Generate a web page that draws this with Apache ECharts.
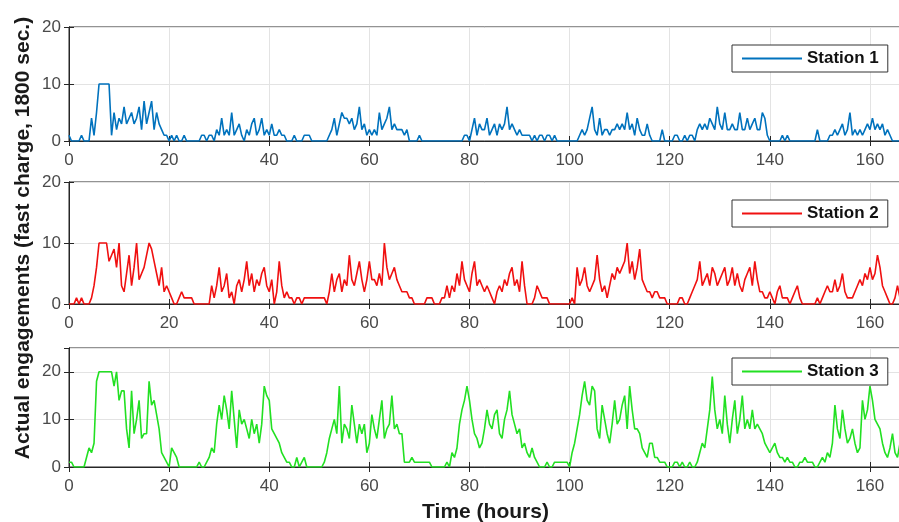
<!DOCTYPE html>
<html>
<head>
<meta charset="utf-8">
<script src="https://cdn.jsdelivr.net/npm/echarts@6/dist/echarts.min.js"></script>
<style>
html, body { margin: 0; padding: 0; background: #fff; }
#chart { width: 899px; height: 522px; }
</style>
</head>
<body>
<div id="chart"></div>
<script>
// half-hour samples (1800 sec), hour 0 .. 167.5
var station1 = [
    1,0,0,0,0,1,0,0,0,4,1,5,10,10,10,10,10,1,5,2,
    4,3,6,3,4,5,3,4,6,2,7,3,5,7,2,5,3,2,1,1,
    0,1,0,1,0,0,1,0,0,0,0,0,0,1,1,0,1,1,0,2,
    1,4,1,2,1,5,1,2,3,1,0,2,1,3,4,1,2,4,1,2,
    1,3,1,1,2,1,1,0,0,0,1,0,0,0,1,1,1,0,0,0,
    0,0,0,0,1,2,4,1,3,5,4,4,3,4,2,3,6,2,3,1,
    2,1,2,1,5,2,3,4,6,2,3,2,2,2,1,2,0,0,0,0,
    1,0,0,0,0,0,0,0,0,0,0,0,0,0,0,0,0,0,1,1,
    0,2,4,1,3,2,2,4,1,2,3,1,3,2,3,6,2,3,2,1,
    2,1,1,1,1,0,1,0,1,1,0,1,1,0,1,0,0,0,0,0,
    0,0,0,0,1,2,1,2,4,6,2,1,4,1,2,2,1,2,2,3,
    2,3,2,5,2,3,1,4,2,1,1,3,1,0,0,0,0,2,0,0,
    0,0,1,1,0,0,1,0,1,1,0,2,3,2,3,2,4,3,2,6,
    3,2,5,2,2,3,2,2,5,2,2,4,2,3,4,2,2,5,4,1,
    0,0,0,0,0,1,0,1,0,0,0,0,0,0,0,0,0,0,0,2,
    0,0,0,0,1,1,2,1,2,3,1,2,5,1,2,1,2,1,2,3,
    2,4,2,3,2,3,1,2,1,0,0,0,0,0,0,0
];
var station2 = [
    0,0,0,1,0,1,0,0,0,1,3,6,10,10,10,10,7,8,9,6,
    10,3,2,5,8,3,6,10,4,5,6,8,10,9,7,5,3,6,2,3,
    2,1,0,0,1,2,1,1,1,1,0,0,0,0,0,0,0,3,1,3,
    6,2,3,5,1,2,0,3,4,2,4,7,3,5,2,4,3,5,6,3,
    2,4,0,2,7,3,1,2,1,1,0,1,1,0,1,1,1,1,1,1,
    1,1,1,0,2,5,2,4,5,2,4,3,8,4,3,5,7,4,2,4,
    7,4,4,3,5,3,10,6,4,5,6,4,3,2,2,2,1,1,0,0,
    0,0,0,1,1,1,0,0,0,1,1,3,1,3,2,5,3,7,4,3,
    2,5,7,3,4,3,2,3,2,1,0,2,3,2,4,3,5,6,3,4,
    2,7,3,0,0,0,1,3,2,1,1,1,0,0,0,0,0,0,0,0,
    0,1,0,6,3,4,6,3,2,3,4,8,4,2,3,1,3,5,4,6,
    5,6,7,10,5,7,4,6,9,4,3,2,2,1,2,2,1,1,1,0,
    0,0,0,0,1,1,0,0,1,2,3,4,7,3,4,5,3,6,5,3,
    4,5,6,3,4,6,3,5,3,2,4,5,6,3,7,4,2,2,1,1,
    2,1,0,2,3,1,1,1,0,1,2,3,1,0,0,0,0,0,0,1,
    0,1,2,3,2,2,4,2,3,5,2,1,1,1,2,3,4,3,5,4,
    6,4,5,8,6,3,2,1,0,0,1,3,1,0,0,0
];
var station3 = [
    1,1,0,0,0,0,0,2,4,3,5,18,20,20,20,20,20,20,17,20,
    14,16,16,8,4,16,7,10,14,6,7,7,18,13,14,11,8,3,2,1,
    0,4,3,2,0,0,0,0,0,0,0,0,1,0,0,1,2,4,3,9,
    13,10,15,12,8,16,10,4,12,9,10,8,6,10,7,9,5,9,17,15,
    14,8,7,6,5,3,2,1,1,0,0,2,0,1,2,0,0,0,0,0,
    0,0,1,3,6,8,10,7,17,5,9,8,6,13,9,5,9,7,9,3,
    5,11,8,6,10,14,6,8,9,15,8,9,7,7,1,1,1,2,1,1,
    1,1,1,1,1,0,0,0,0,0,0,1,0,3,2,4,9,12,14,17,
    14,10,7,6,4,5,8,12,9,8,11,12,7,6,10,12,16,11,9,7,
    8,4,5,3,2,4,2,1,0,0,0,1,0,0,1,1,1,1,1,1,
    0,3,5,8,11,15,18,14,13,17,16,8,6,13,10,7,5,9,14,9,
    10,13,15,8,17,12,8,8,7,4,3,2,5,5,2,2,1,1,1,0,
    0,0,1,1,0,1,0,0,1,0,0,1,3,5,4,8,12,19,12,8,
    10,7,15,9,5,10,14,7,10,15,8,10,8,12,8,9,8,7,5,4,
    3,4,5,3,2,2,1,2,1,1,0,0,1,1,2,1,1,1,0,0,
    1,2,1,3,2,5,13,8,6,12,8,5,6,8,5,3,4,14,10,12,
    17,14,10,9,8,5,3,2,4,7,3,2,5,2,1,1
];
var stationNames = ['Station 1', 'Station 2', 'Station 3'];
var stationColors = ['#0072BD', '#F01010', '#22E022'];
var yMax = [20, 20, 25];
var xMax = 166.4;
var step = 0.5;   // hours per sample

var chart = echarts.init(document.getElementById('chart'));

var grids = [
    {left: 69, top: 27, width: 833, height: 114},
    {left: 69, top: 182, width: 833, height: 122},
    {left: 69, top: 348, width: 833, height: 119}
];
var legendTops = [45, 200, 358];

function toPairs(arr) {
    return arr.map(function (v, i) { return [i * step, v]; });
}

var frameColor = '#262626';
var labelFont = {fontFamily: 'Liberation Sans', fontSize: 17, color: '#4a4a4a'};
var tickStyle = {show: true, inside: true, length: 5, lineStyle: {color: frameColor}};

var xAxes = [], yAxes = [], series = [], legends = [];
var allData = [station1, station2, station3];

for (var i = 0; i < 3; i++) {
    xAxes.push({
        type: 'value', gridIndex: i, min: 0, max: xMax, interval: 20,
        position: 'bottom',
        axisLine: {show: true, onZero: false, lineStyle: {color: frameColor, width: 1}},
        axisTick: tickStyle,
        axisLabel: Object.assign({margin: 11, showMaxLabel: false}, labelFont),
        splitLine: {show: true, lineStyle: {color: '#e3e3e3', width: 1}},
        name: i === 2 ? 'Time (hours)' : '',
        nameLocation: 'middle', nameGap: 35,
        nameTextStyle: {fontFamily: 'Liberation Sans', fontSize: 21, fontWeight: 'bold', color: '#1a1a1a'}
    });
    // top edge of the box
    xAxes.push({
        type: 'value', gridIndex: i, min: 0, max: xMax, interval: 20,
        position: 'top',
        axisLine: {show: true, lineStyle: {color: frameColor, width: 1}},
        axisTick: tickStyle,
        axisLabel: {show: false},
        splitLine: {show: false}
    });
    yAxes.push({
        type: 'value', gridIndex: i, min: 0, max: yMax[i], interval: 10,
        position: 'left',
        axisLine: {show: true, lineStyle: {color: frameColor, width: 1}},
        axisTick: tickStyle,
        axisLabel: Object.assign({margin: 8, showMaxLabel: yMax[i] % 10 === 0}, labelFont),
        splitLine: {show: true, lineStyle: {color: '#e3e3e3', width: 1}}
    });
    // right edge of the box (just off canvas, ticks peek in)
    yAxes.push({
        type: 'value', gridIndex: i, min: 0, max: yMax[i], interval: 10,
        position: 'right',
        axisLine: {show: true, lineStyle: {color: frameColor, width: 1}},
        axisTick: tickStyle,
        axisLabel: {show: false},
        splitLine: {show: false}
    });
    series.push({
        name: stationNames[i],
        type: 'line',
        xAxisIndex: i * 2, yAxisIndex: i * 2,
        data: toPairs(allData[i]),
        symbol: 'none',
        color: stationColors[i],
        lineStyle: {width: 1.6, color: stationColors[i]},
        animation: false
    });
    legends.push({
        data: [stationNames[i]],
        left: 732, top: legendTops[i],
        orient: 'horizontal',
        itemWidth: 60, itemHeight: 18, itemGap: 0,
        padding: [5, 9, 5, 10],
        backgroundColor: '#fff',
        borderColor: '#333', borderWidth: 1, borderRadius: 0,
        selectedMode: false,
        icon: 'path://M0,0 L60,0 L60,2 L0,2 Z',
        itemStyle: {color: stationColors[i]},
        textStyle: {fontFamily: 'Liberation Sans', fontSize: 17, fontWeight: 'bold', color: '#111'}
    });
}

var option = {
    backgroundColor: '#fff',
    animation: false,
    grid: grids.map(function (g) {
        return Object.assign({
            show: true, borderColor: frameColor, borderWidth: 1, backgroundColor: '#fff',
            containLabel: false, outerBoundsMode: 'none'
        }, g);
    }),
    xAxis: xAxes,
    yAxis: yAxes,
    legend: legends,
    series: series,
    graphic: [{
        type: 'text',
        x: 23, y: 238,
        rotation: Math.PI / 2,
        style: {
            text: 'Actual engagements (fast charge, 1800 sec.)',
            fontFamily: 'Liberation Sans', fontSize: 21, fontWeight: 'bold',
            fill: '#1a1a1a', align: 'center', verticalAlign: 'middle'
        }
    }]
};

chart.setOption(option);
</script>
</body>
</html>
